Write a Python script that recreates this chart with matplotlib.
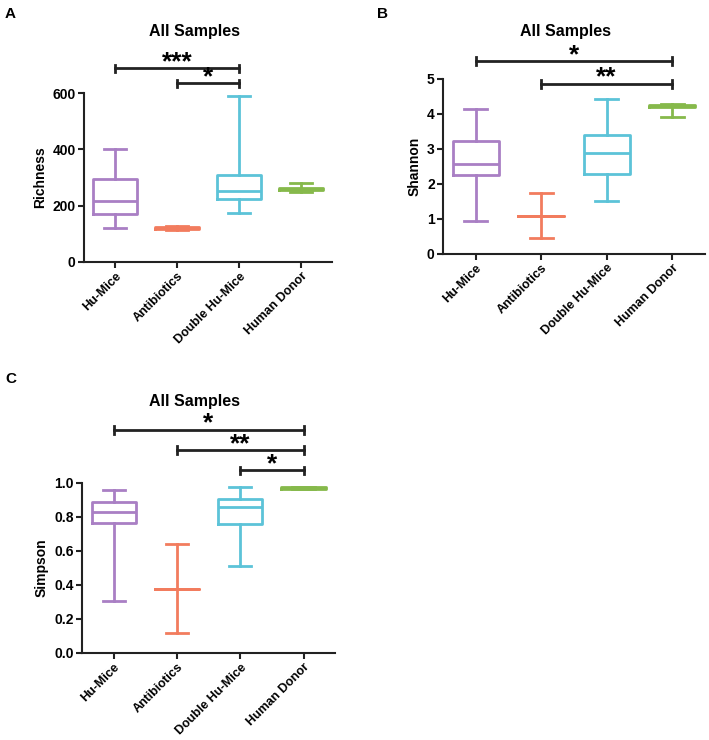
import matplotlib
matplotlib.use("Agg")
import matplotlib.pyplot as plt

plt.rcParams['font.family'] = ['Liberation Sans', 'DejaVu Sans']
plt.rcParams['font.weight'] = 'bold'

groups = ["Hu-Mice", "Antibiotics", "Double Hu-Mice", "Human Donor"]
colors = ["#A97FC4", "#F27C5E", "#5CC3D8", "#86B94B"]

# box stats per group: whisker low, Q1, median, Q3, whisker high
richness_lo = [120, 115, 175, 248]
richness_q1 = [170, 117, 225, 255]
richness_med = [218, 120, 253, 259]
richness_q3 = [295, 124, 310, 263]
richness_hi = [400, 128, 590, 280]

shannon_lo = [0.93, 0.44, 1.52, 3.90]
shannon_q1 = [2.25, 1.07, 2.28, 4.19]
shannon_med = [2.57, 1.08, 2.89, 4.22]
shannon_q3 = [3.22, 1.09, 3.40, 4.26]
shannon_hi = [4.14, 1.73, 4.41, 4.28]

simpson_lo = [0.307, 0.116, 0.51, 0.962]
simpson_q1 = [0.766, 0.374, 0.76, 0.966]
simpson_med = [0.829, 0.376, 0.858, 0.972]
simpson_q3 = [0.888, 0.378, 0.907, 0.978]
simpson_hi = [0.96, 0.64, 0.974, 0.979]

# significance brackets: (start group, end group, y level, stars)
richness_sig = [(0, 2, 689, "***"), (1, 2, 635, "*")]
shannon_sig = [(0, 3, 5.50, "*"), (1, 3, 4.86, "**")]
simpson_sig = [(0, 3, 1.313, "*"), (1, 3, 1.193, "**"), (2, 3, 1.075, "*")]


def draw_panel(ax, lo, q1, med, q3, hi, sig, ylabel, ylim, yticks, yfmt):
    stats = []
    for i in range(len(groups)):
        stats.append(dict(whislo=lo[i], q1=q1[i], med=med[i], q3=q3[i],
                          whishi=hi[i], fliers=[], label=groups[i]))
    arts = ax.bxp(stats, positions=range(4), widths=0.7, capwidths=0.35,
                  showfliers=False, patch_artist=False)
    for i, c in enumerate(colors):
        arts['boxes'][i].set(color=c, linewidth=2)
        arts['medians'][i].set(color=c, linewidth=2)
        for k in (2 * i, 2 * i + 1):
            arts['whiskers'][k].set(color=c, linewidth=2)
            arts['caps'][k].set(color=c, linewidth=2)

    ax.set_xlim(-0.5, 3.5)
    ax.set_ylim(*ylim)
    ax.set_yticks(yticks)
    ax.set_yticklabels([yfmt.format(v) for v in yticks], fontsize=10,
                       fontweight='bold')
    ax.set_xticks(range(4))
    ax.set_xticklabels(groups, rotation=45, ha='right', rotation_mode='anchor',
                       fontsize=9, fontweight='bold')
    for s in ('top', 'right'):
        ax.spines[s].set_visible(False)
    for s in ('left', 'bottom'):
        ax.spines[s].set_linewidth(1.5)
        ax.spines[s].set_color('#222222')
    ax.tick_params(length=4, width=1.5, color='#222222', pad=2)
    ax.set_ylabel(ylabel, fontsize=10, fontweight='bold', labelpad=4)

    tick = (ylim[1] - ylim[0]) * 0.022
    for a, b, y, stars in sig:
        ax.plot([a, b], [y, y], color='#222222', lw=2, clip_on=False)
        for x in (a, b):
            ax.plot([x, x], [y - tick, y + tick], color='#222222', lw=2,
                    clip_on=False)
        ax.annotate(stars, xy=((a + b) / 2, y), xytext=(0, 4.5),
                    textcoords='offset points', ha='center', va='center',
                    fontsize=19, fontweight='bold', annotation_clip=False)


fig = plt.figure(figsize=(7.09, 7.40), dpi=100)
ax_a = fig.add_axes([0.1185, 0.646, 0.350, 0.228])
ax_b = fig.add_axes([0.6248, 0.657, 0.3695, 0.2365])
ax_c = fig.add_axes([0.1157, 0.1176, 0.357, 0.2297])

draw_panel(ax_a, richness_lo, richness_q1, richness_med, richness_q3,
           richness_hi, richness_sig, "Richness", (0, 600), [0, 200, 400, 600],
           "{:.0f}")
draw_panel(ax_b, shannon_lo, shannon_q1, shannon_med, shannon_q3, shannon_hi,
           shannon_sig, "Shannon", (0, 5), [0, 1, 2, 3, 4, 5], "{:.0f}")
draw_panel(ax_c, simpson_lo, simpson_q1, simpson_med, simpson_q3, simpson_hi,
           simpson_sig, "Simpson", (0, 1.0), [0, 0.2, 0.4, 0.6, 0.8, 1.0],
           "{:.1f}")

for x, y in [(0.275, 0.957), (0.798, 0.957), (0.275, 0.457)]:
    fig.text(x, y, "All Samples", fontsize=11.5, fontweight='bold',
             ha='center', va='center')

fig.text(0.007, 0.99, "A", fontsize=11, fontweight='bold', va='top')
fig.text(0.532, 0.99, "B", fontsize=11, fontweight='bold', va='top')
fig.text(0.007, 0.497, "C", fontsize=11, fontweight='bold', va='top')

fig.savefig("out.png", dpi=100)
